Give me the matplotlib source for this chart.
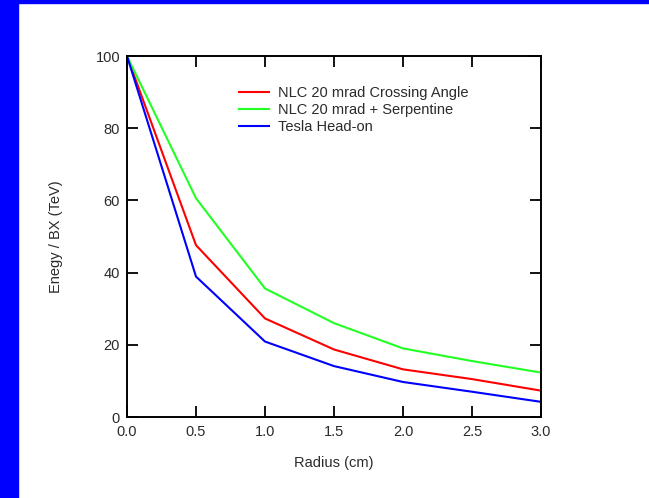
import matplotlib

matplotlib.use("Agg")
import matplotlib.pyplot as plt  # noqa: E402
from matplotlib.patches import Rectangle  # noqa: E402

# Energy per bunch crossing vs. radius
radius = [0.0, 0.5, 1.0, 1.5, 2.0, 2.5, 3.0]
nlc_crossing = [100, 47.6, 27.3, 18.7, 13.2, 10.5, 7.3]
nlc_serpentine = [100, 60.6, 35.6, 26.0, 19.0, 15.5, 12.3]
tesla_headon = [100, 38.9, 20.9, 14.1, 9.7, 7.0, 4.2]

x_ticks = [0.0, 0.5, 1.0, 1.5, 2.0, 2.5, 3.0]
y_ticks = [0, 20, 40, 60, 80, 100]

plt.rcParams["font.family"] = ["Liberation Sans", "DejaVu Sans"]
TEXT = "#2a2a2a"
FS = 10.5

fig = plt.figure(figsize=(6.49, 4.98), dpi=100)
fig.patch.set_facecolor("white")

# slide border strips (left and top)
fig.patches.append(Rectangle((0, 0), 18 / 649, 1, transform=fig.transFigure,
                             color="#0000ff", zorder=0))
fig.patches.append(Rectangle((0, 1 - 3.5 / 498), 1, 3.5 / 498,
                             transform=fig.transFigure, color="#0000ff", zorder=0))

ax = fig.add_axes([127 / 649, 1 - 417 / 498, 414 / 649, 361 / 498])

ax.plot(radius, nlc_crossing, color="#ff0000", lw=1.5, label="NLC 20 mrad Crossing Angle")
ax.plot(radius, nlc_serpentine, color="#22ff22", lw=1.5, label="NLC 20 mrad + Serpentine")
ax.plot(radius, tesla_headon, color="#0000ff", lw=1.5, label="Tesla Head-on")

ax.set_xlim(0, 3.0)
ax.set_ylim(0, 100)
ax.set_xticks(x_ticks)
ax.set_xticklabels([f"{t:.1f}" for t in x_ticks])
ax.set_yticks(y_ticks)

for s in ax.spines.values():
    s.set_linewidth(1.4)
    s.set_color("black")
ax.tick_params(direction="in", length=8, width=1.3, top=True, right=True,
               labelsize=FS, labelcolor=TEXT)
ax.tick_params(axis="x", pad=5.5)
ax.tick_params(axis="y", pad=5)

ax.set_xlabel("Radius (cm)", fontsize=FS, color=TEXT)
ax.set_ylabel("Enegy / BX (TeV)", fontsize=FS, color=TEXT)
ax.xaxis.set_label_coords(0.5, -0.108)
ax.yaxis.set_label_coords(-0.155, 0.5)

leg = ax.legend(loc="upper left", bbox_to_anchor=(0.2705, 0.917), frameon=False,
                fontsize=FS, handlelength=2.05, handletextpad=0.62,
                labelspacing=0.2, borderpad=0, borderaxespad=0)
for t in leg.get_texts():
    t.set_color(TEXT)

fig.savefig("out.png", dpi=100)
plt.close(fig)
